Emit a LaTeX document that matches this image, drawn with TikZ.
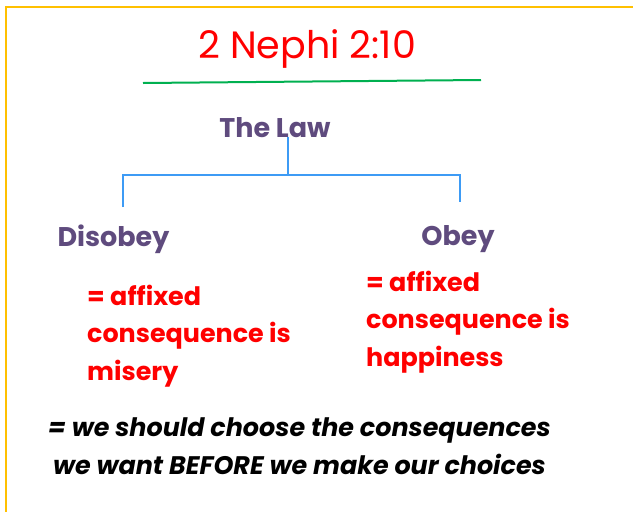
\documentclass[tikz,border=0pt]{standalone}
\usepackage{fontspec}
\setmainfont{Poppins}
\usepackage{tikz}

\definecolor{frameyellow}{HTML}{FFC000}
\definecolor{lawpurple}{HTML}{5F4B7E}
\definecolor{linkblue}{HTML}{3D9BF5}
\definecolor{rulegreen}{HTML}{00B050}

\tikzset{
    heading/.style={text=lawpurple, font=\bfseries\fontsize{27}{30}\selectfont, inner sep=0pt, anchor=base},
    result/.style={text=red, font=\bfseries\fontsize{25.4}{37.5}\selectfont, align=left, anchor=base west, inner sep=0pt},
    link/.style={linkblue, line width=1.3pt}
}

\begin{document}
\begin{tikzpicture}[x=1pt, y=-1pt]
            \useasboundingbox (0, 0) rectangle (633, 512);
            \fill[white] (0, 0) rectangle (633, 512);
            \draw[frameyellow, line width=2pt] (633, 7) -- (6, 7) -- (6, 512);

            \node[text=red, font=\fontsize{38}{42}\selectfont, inner sep=0pt, anchor=base] at (307, 58) (title) {2 Nephi 2:10};
            \draw[rulegreen, line width=2pt] (143, 83) -- (481, 80);

            \node[heading] at (275, 137) (law) {The Law};
            \node[heading] at (113.5, 246) (disobey) {Disobey};
            \node[heading] at (458, 245) (obey) {Obey};

            \coordinate (fork) at (288, 175);
            \coordinate (leftend) at (123, 207);
            \coordinate (rightend) at (460, 202);
            \draw[link] (law.south -| fork) -- (fork);
            \draw[link] (leftend) |- (fork) -| (rightend);

            % base anchor sits on the last line
            \node[result] at (87, 380) (misery) {= affixed\\consequence is\\misery};
            \node[result] at (366, 366) (happiness) {= affixed\\consequence is\\happiness};

            \node[font=\bfseries\itshape\fontsize{25.4}{38}\selectfont, align=center, inner sep=0pt, anchor=base] at (299.5, 474) (choose) {= we should choose the consequences\\we want BEFORE we make our choices};
        \end{tikzpicture}
\end{document}
